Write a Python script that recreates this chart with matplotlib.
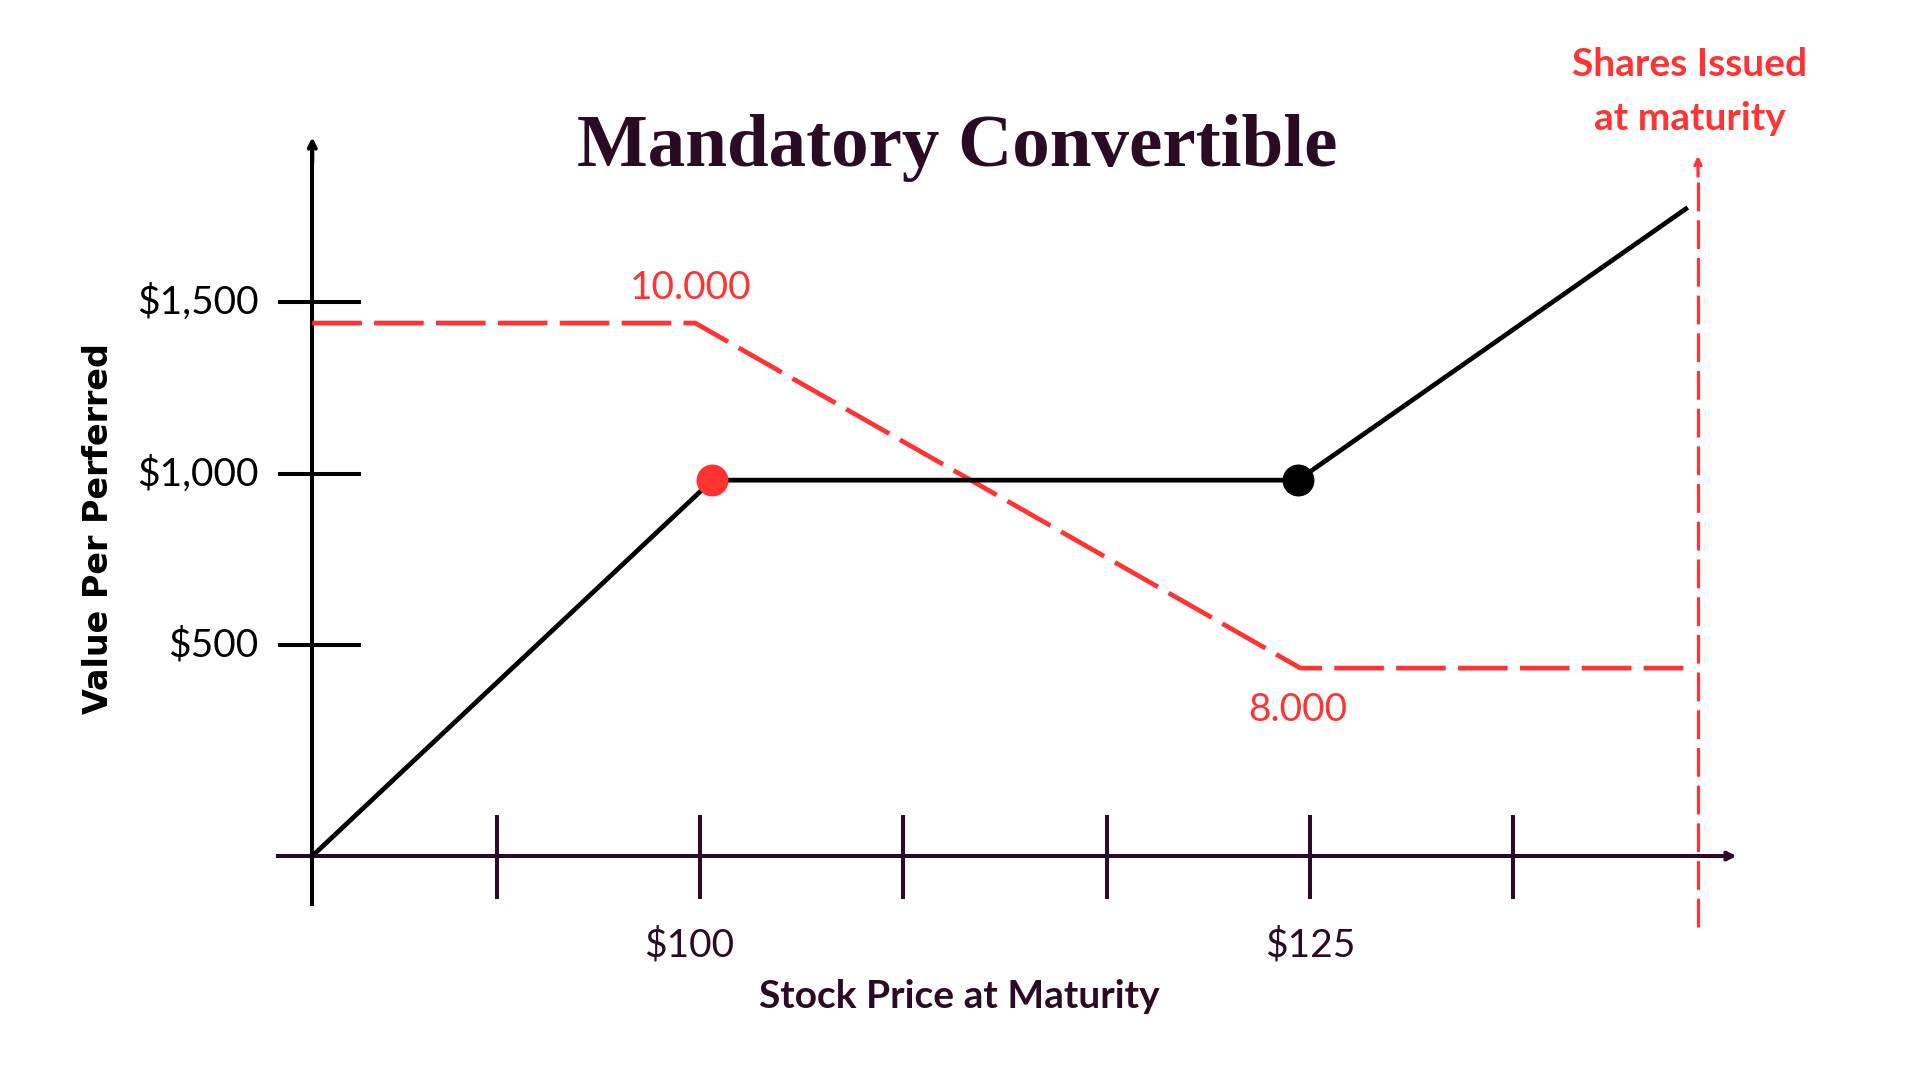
import matplotlib
matplotlib.use("Agg")
import matplotlib.pyplot as plt

# payoff of the mandatory convertible (schematic values)
price = [84.1, 100.5, 124.5, 140.4]
value = [-114, 982, 982, 1773]
shares_x = [84.1, 99.8, 124.6, 140.3]
shares_y = [1440, 1440, 434, 434]
shares_labels = ["10.000", "8.000"]
x_ticks = [91.67, 100, 108.33, 116.67, 125, 133.33]
x_labels = {100: "$100", 125: "$125"}
y_ticks = [500, 1000, 1500]
y_labels = ["$500", "$1,000", "$1,500"]
maturity_x = 140.9

RED = "#ff3333"
PURPLE = "#2b0a24"

fig = plt.figure(figsize=(19.2, 10.8), dpi=100)
ax = fig.add_axes([0, 0, 1, 1])
ax.set_xlim(71.3, 150.0)
ax.set_ylim(-767, 2382)
ax.axis("off")

x0 = price[0]
y0 = value[0]

# axes drawn by hand
ax.plot([x0, x0], [-260, 1960], color="black", lw=2.9, solid_capstyle="butt")
ax.annotate("", xy=(x0, 1990), xytext=(x0, 1900),
            arrowprops=dict(arrowstyle="->,head_length=0.5,head_width=0.25", color="black", lw=2.9))
ax.plot([82.6, 142.2], [y0, y0], color=PURPLE, lw=2.9, solid_capstyle="butt")
ax.annotate("", xy=(142.6, y0), xytext=(141.0, y0),
            arrowprops=dict(arrowstyle="->,head_length=0.5,head_width=0.25", color=PURPLE, lw=2.9))
for t in x_ticks:
    ax.plot([t, t], [5, -240], color=PURPLE, lw=2.9, solid_capstyle="butt")
for t in y_ticks:
    ax.plot([82.7, 86.1], [t, t], color="black", lw=2.9, solid_capstyle="butt")

# shares issued (red dashed)
ln, = ax.plot(shares_x, shares_y, color=RED, lw=3.4, solid_joinstyle="miter")
ln.set_dashes([10.5, 2.6])

# maturity vertical
vl, = ax.plot([maturity_x, maturity_x], [-321, 1880], color=RED, lw=2.3)
vl.set_dashes([9, 2.8])
ax.annotate("", xy=(maturity_x, 1936), xytext=(maturity_x, 1860),
            arrowprops=dict(arrowstyle="->,head_length=0.45,head_width=0.22", color=RED, lw=2.3))

# value per preferred
ax.plot(price, value, color="black", lw=3.4, solid_joinstyle="round")
ax.plot(price[1], value[1], "o", color=RED, ms=22, zorder=5)
ax.plot(price[2], value[2], "o", color="black", ms=22, zorder=5)

# texts
def fx(px):
    return px / 1920

def fy(py):
    return 1 - py / 1080

fig.text(fx(957), fy(148), "Mandatory Convertible", ha="center", va="center",
         fontsize=54, family="Liberation Serif", fontweight="bold", color=PURPLE)

for t, lab in zip(y_ticks, y_labels):
    ax.text(81.9, t, lab, ha="right", va="center", fontsize=28, family="Lato", color="black")
for t, lab in x_labels.items():
    ax.text(t - 0.45 if t == 100 else t, -373, lab, ha="center", va="center",
            fontsize=28, family="Lato", color=PURPLE)

ax.text(99.6, 1542, shares_labels[0], ha="center", va="center", fontsize=28, family="Lato", color=RED)
ax.text(124.5, 312, shares_labels[1], ha="center", va="center", fontsize=28, family="Lato", color=RED)

fig.text(fx(959), fy(996), "Stock Price at Maturity", ha="center", va="center",
         fontsize=28, family="Lato", fontweight="bold", color=PURPLE)
fig.text(fx(99), fy(529), "Value Per Perferred", ha="center", va="center", rotation=90,
         fontsize=24, family="DejaVu Sans", fontweight="bold", color="black")
fig.text(fx(1690), fy(64), "Shares Issued", ha="center", va="center",
         fontsize=28, family="Lato", fontweight="bold", color=RED)
fig.text(fx(1690), fy(118), "at maturity", ha="center", va="center",
         fontsize=28, family="Lato", fontweight="bold", color=RED)

fig.savefig("out.png", dpi=100, facecolor="white")
